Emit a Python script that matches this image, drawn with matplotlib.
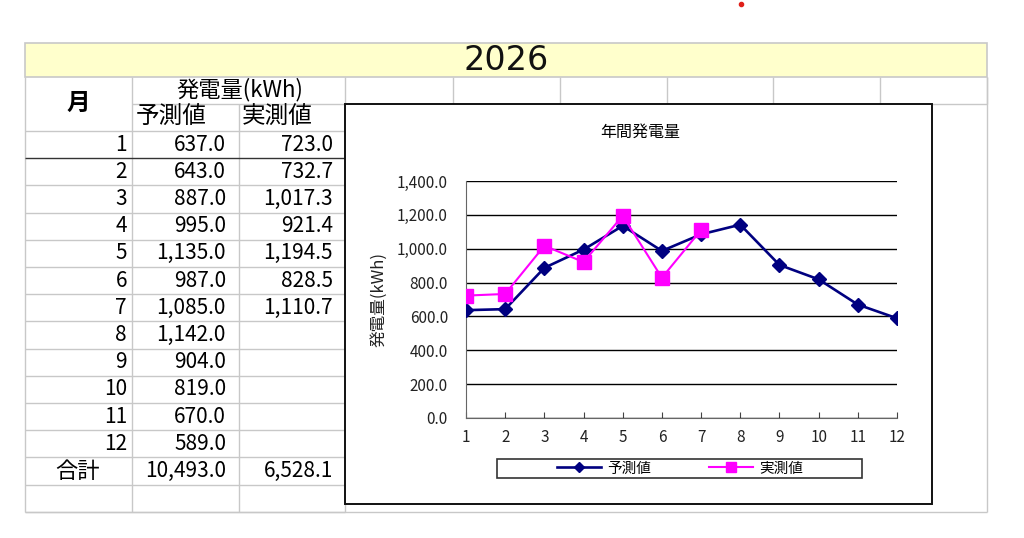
import matplotlib

matplotlib.use("Agg")
import matplotlib.pyplot as plt
from matplotlib.lines import Line2D
from matplotlib.patches import Rectangle

plt.rcParams["font.family"] = ["Noto Sans CJK JP", "DejaVu Sans"]

YEAR = "2026"
MONTHS = [1, 2, 3, 4, 5, 6, 7, 8, 9, 10, 11, 12]
FORECAST = [637.0, 643.0, 887.0, 995.0, 1135.0, 987.0, 1085.0, 1142.0, 904.0, 819.0, 670.0, 589.0]
ACTUAL = [723.0, 732.7, 1017.3, 921.4, 1194.5, 828.5, 1110.7]
Y_TICKS = [0, 200, 400, 600, 800, 1000, 1200, 1400]

NAVY = "#000080"
MAGENTA = "#FF00FF"
GRID = "#c8c8c8"

W, H = 1024, 538
fig = plt.figure(figsize=(W / 100, H / 100), dpi=100)

# sheet drawn in pixel coordinates
bg = fig.add_axes([0, 0, 1, 1])
bg.set_xlim(0, W)
bg.set_ylim(H, 0)
bg.axis("off")

cols = [25, 132, 239, 345, 453, 560, 667, 773, 880, 987]
row0 = 131
rh = 27.2
rows = [row0 + rh * i for i in range(15)]

bg.add_patch(Rectangle((25, 43), 962, 34, facecolor="#FFFFCC", edgecolor=GRID, lw=1.2))
bg.text(506, 60, YEAR, fontsize=24, family="DejaVu Sans", ha="center", va="center", color="#111")

# header grid
bg.hlines(103.5, 132, 987, color=GRID, lw=1)
for x in cols[3:]:
    bg.vlines(x, 77, 103.5, color=GRID, lw=1)
bg.vlines(25, 77, 512, color=GRID, lw=1)
bg.vlines(132, 77, 512, color=GRID, lw=1)
bg.vlines(239, 103.5, 512, color=GRID, lw=1)
bg.vlines(345, 103.5, 512, color=GRID, lw=1)
bg.vlines(987, 77, 512, color=GRID, lw=1)
for i, y in enumerate(rows):
    color = "#333333" if i == 1 else GRID
    bg.hlines(y, 25, 345, color=color, lw=1)
bg.hlines(511.5, 25, 987, color=GRID, lw=1)

bg.text(78, 103, "月", fontsize=17, ha="center", va="center", fontweight="bold")
bg.text(240, 90, "発電量(kWh)", fontsize=16, ha="center", va="center")
bg.text(136, 117, "予測値", fontsize=17, ha="left", va="center")
bg.text(242, 117, "実測値", fontsize=17, ha="left", va="center")

for i, m in enumerate(MONTHS):
    yc = row0 + rh * (i + 0.5)
    bg.text(127, yc, str(m), fontsize=15, ha="right", va="center")
    bg.text(226, yc, f"{FORECAST[i]:,.1f}", fontsize=15, ha="right", va="center")
    if i < len(ACTUAL):
        bg.text(333, yc, f"{ACTUAL[i]:,.1f}", fontsize=15, ha="right", va="center")
yt = row0 + rh * 12.5
bg.text(78, yt, "合計", fontsize=16, ha="center", va="center")
bg.text(226, yt, f"{sum(FORECAST):,.1f}", fontsize=15, ha="right", va="center")
bg.text(333, yt, f"{sum(ACTUAL):,.1f}", fontsize=15, ha="right", va="center")

# chart frame
bg.add_patch(Rectangle((345, 103.5), 587, 400.5, facecolor="white", edgecolor="#111", lw=1.4, zorder=3))
bg.text(640, 132, "年間発電量", fontsize=11.5, ha="center", va="center", zorder=4)
bg.plot([741], [4], "o", color="#e0201a", ms=3, zorder=4)

left, right, top, bottom = 466, 897, 181, 418
ax = fig.add_axes([left / W, 1 - bottom / H, (right - left) / W, (bottom - top) / H])
ax.patch.set_alpha(0)
ax.plot(MONTHS, FORECAST, color=NAVY, lw=1.9, marker="D", ms=6.8, mec=NAVY, zorder=3)
ax.plot(MONTHS[:len(ACTUAL)], ACTUAL, color=MAGENTA, lw=1.5, marker="s", ms=9.5, mec=MAGENTA, zorder=4)

ax.set_xlim(1, 12)
ax.set_ylim(0, 1400)
ax.set_xticks(MONTHS)
ax.set_yticks(Y_TICKS)
ax.set_yticklabels([f"{v:,.1f}" for v in Y_TICKS])
ax.yaxis.grid(True, color="black", lw=1)
ax.set_axisbelow(True)
for s in ["top", "right"]:
    ax.spines[s].set_visible(False)
ax.spines["left"].set_color("#666")
ax.spines["bottom"].set_color("#666")
ax.tick_params(axis="x", direction="in", length=4, color="#444", labelsize=11, pad=8, labelcolor="#222")
ax.tick_params(axis="y", length=0, labelsize=11, pad=13, labelcolor="#222")
ax.set_ylabel("発電量(kWh)", fontsize=12, labelpad=7, color="#222")

handles = [
    Line2D([], [], color=NAVY, lw=1.9, marker="D", ms=5),
    Line2D([], [], color=MAGENTA, lw=1.5, marker="s", ms=7),
]
ax.legend(handles, ["予測値", "実測値"], loc="center", ncol=2, frameon=False,
          bbox_to_anchor=(680 / W, 1 - 468.5 / H), bbox_transform=fig.transFigure,
          fontsize=10.5, handlelength=3, handletextpad=0.4, columnspacing=4)
bg.add_patch(Rectangle((497, 459), 365, 19, facecolor="none", edgecolor="#333", lw=1.2, zorder=4))

fig.savefig("out.png", dpi=100)
